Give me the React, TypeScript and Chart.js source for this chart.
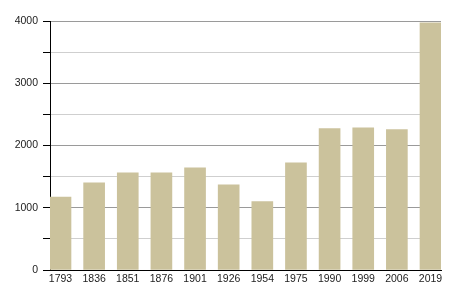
import React, { useEffect, useRef } from "react";
import { Chart, registerables } from "chart.js";

Chart.register(...registerables);

const years = ["1793", "1836", "1851", "1876", "1901", "1926", "1954", "1975", "1990", "1999", "2006", "2019"];
const population = [1170, 1400, 1560, 1560, 1640, 1370, 1100, 1720, 2270, 2285, 2255, 3970];
const yMax = 4000;
const yStep = 500;
const yLabelStep = 1000;

export default function App() {
  const ref = useRef<HTMLCanvasElement>(null);

  useEffect(() => {
    if (!ref.current) return;
    const margin = 0.312;
    const chart = new Chart(ref.current, {
      type: "bar",
      data: {
        datasets: [
          {
            data: population.map((v, i) => ({ x: i, y: v })),
            backgroundColor: "#cbc29c",
            borderWidth: 0,
            barThickness: 21,
          },
        ],
      },
      options: {
        animation: false,
        responsive: false,
        events: [],
        layout: { padding: { top: 21, right: 9, left: 0, bottom: 0 } },
        plugins: { legend: { display: false }, tooltip: { enabled: false } },
        scales: {
          x: {
            type: "linear",
            offset: false,
            min: -margin,
            max: years.length - 1 + margin,
            afterBuildTicks: (axis: any) => {
              axis.ticks = years.map((_, i) => ({ value: i }));
            },
            afterFit: (axis: any) => {
              axis.height = 30;
            },
            grid: { display: false, drawTicks: false },
            border: { display: true, color: "#000", width: 1 },
            ticks: {
              autoSkip: false,
              maxRotation: 0,
              padding: 3,
              color: "#222",
              font: { family: "'Liberation Sans', Arial, sans-serif", size: 10.5 },
              callback: (v: any) => years[v as number] ?? "",
            },
          },
          y: {
            min: 0,
            max: yMax,
            afterFit: (axis: any) => {
              axis.width = 50;
            },
            grid: {
              color: (ctx: any) => (ctx.tick && ctx.tick.value % yLabelStep === 0 ? "#9a9a9a" : "#cfcfcf"),
              tickColor: "#000",
              tickLength: 7,
              lineWidth: 1,
            },
            border: { display: true, color: "#000", width: 1 },
            ticks: {
              stepSize: yStep,
              padding: 5,
              color: "#222",
              font: { family: "'Liberation Sans', Arial, sans-serif", size: 10.5 },
              callback: (v: any) => ((v as number) % yLabelStep === 0 ? String(v) : ""),
            },
          },
        },
      },
    });
    return () => chart.destroy();
  }, []);

  return (
    <div style={{ position: "fixed", left: 0, top: 0, width: 450, height: 300, background: "#fff" }}>
      <canvas ref={ref} width={450} height={300} style={{ width: 450, height: 300 }} />
    </div>
  );
}
